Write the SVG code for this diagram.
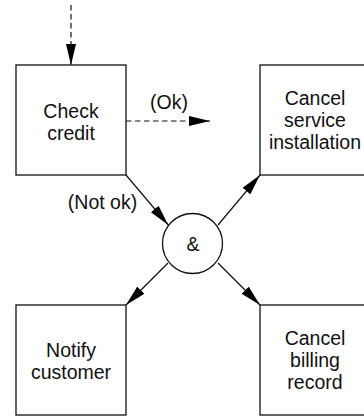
<svg xmlns="http://www.w3.org/2000/svg" width="364" height="416" viewBox="0 0 364 416">
<style>
.box{fill:#fff;stroke:#111;stroke-width:1.3}
.t{font-family:"Liberation Sans",Arial,sans-serif;font-size:19.5px;fill:#111;text-anchor:middle}
.e{stroke:#111;stroke-width:1.2;fill:none}
.d{stroke-dasharray:5.5 3.5}
</style>
<defs>
<marker id="ah" markerUnits="userSpaceOnUse" markerWidth="22" markerHeight="12" refX="21" refY="5" orient="auto">
<path d="M0,0 L21,5 L0,10 Z" fill="#000"/>
</marker>
</defs>
<rect width="364" height="416" fill="#fff"/>
<g id="edges">
<line class="e d" x1="71" y1="5" x2="71" y2="65" marker-end="url(#ah)"/>
<line class="e d" x1="126" y1="121" x2="210" y2="121" marker-end="url(#ah)"/>
<line class="e" x1="126" y1="175" x2="168.3" y2="225" marker-end="url(#ah)"/>
<line class="e" x1="218" y1="225" x2="260" y2="175" marker-end="url(#ah)"/>
<line class="e" x1="168" y1="263" x2="126" y2="305" marker-end="url(#ah)"/>
<line class="e" x1="218" y1="263" x2="260" y2="305" marker-end="url(#ah)"/>
<text class="t" x="169" y="109">(Ok)</text>
<text class="t" x="102.5" y="208.5">(Not ok)</text>
</g>
<g id="check-credit">
<rect class="box" x="16" y="65" width="110" height="110"/>
<text class="t" x="71" y="117.5">Check</text>
<text class="t" x="71" y="139.5">credit</text>
</g>
<g id="cancel-service">
<rect class="box" x="260" y="65" width="110" height="110"/>
<text class="t" x="315" y="104.5">Cancel</text>
<text class="t" x="315" y="126.5">service</text>
<text class="t" x="315" y="148.5">installation</text>
</g>
<g id="and">
<circle cx="192.5" cy="243.5" r="30" fill="#fff" stroke="#111" stroke-width="1.3"/>
<text class="t" x="193" y="250.5">&amp;</text>
</g>
<g id="notify">
<rect class="box" x="16" y="305" width="110" height="110"/>
<text class="t" x="71" y="357">Notify</text>
<text class="t" x="71" y="379">customer</text>
</g>
<g id="cancel-billing">
<rect class="box" x="260" y="305" width="110" height="110"/>
<text class="t" x="315" y="344.5">Cancel</text>
<text class="t" x="315" y="366.5">billing</text>
<text class="t" x="315" y="388.5">record</text>
</g>
</svg>
